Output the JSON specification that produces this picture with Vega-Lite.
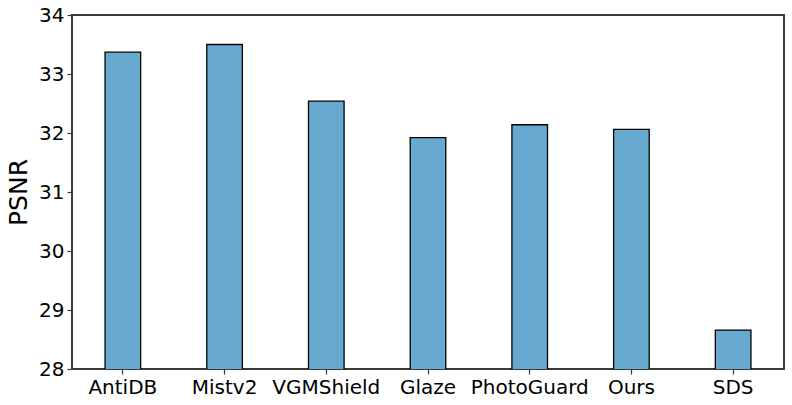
{
  "$schema": "https://vega.github.io/schema/vega-lite/v6.json",
  "width": 712,
  "height": 354,
  "autosize": {"type": "none"},
  "padding": {"left": 72, "top": 15, "right": 8, "bottom": 36},
  "background": "white",
  "config": {
    "font": "DejaVu Sans",
    "view": {"stroke": "#3a3a3a", "strokeWidth": 2},
    "axis": {"grid": false, "domain": false, "tickColor": "#3a3a3a", "tickSize": 5, "tickWidth": 1.2, "labelColor": "black", "labelFontSize": 20, "labelFont": "DejaVu Sans", "titleFont": "DejaVu Sans", "titleFontWeight": "normal", "titleColor": "black"}
  },
  "data": {
    "values": [
      {"method": "AntiDB", "psnr": 33.37},
      {"method": "Mistv2", "psnr": 33.50},
      {"method": "VGMShield", "psnr": 32.54},
      {"method": "Glaze", "psnr": 31.92},
      {"method": "PhotoGuard", "psnr": 32.14},
      {"method": "Ours", "psnr": 32.06},
      {"method": "SDS", "psnr": 28.66}
    ]
  },
  "mark": {"type": "bar", "fill": "#67a9cf", "stroke": "black", "strokeWidth": 1.3, "clip": true},
  "encoding": {
    "x": {
      "field": "method", "type": "nominal", "sort": null,
      "scale": {"paddingInner": 0.65, "paddingOuter": 0.325},
      "axis": {"title": null, "labelAngle": 0, "labelPadding": 3, "labelFontSize": 20}
    },
    "y": {
      "field": "psnr", "type": "quantitative",
      "scale": {"domain": [28, 34], "zero": false, "nice": false},
      "axis": {"title": "PSNR", "titleFontSize": 25, "titlePadding": 7, "values": [28, 29, 30, 31, 32, 33, 34], "labelPadding": 3, "labelFontSize": 20}
    }
  }
}
